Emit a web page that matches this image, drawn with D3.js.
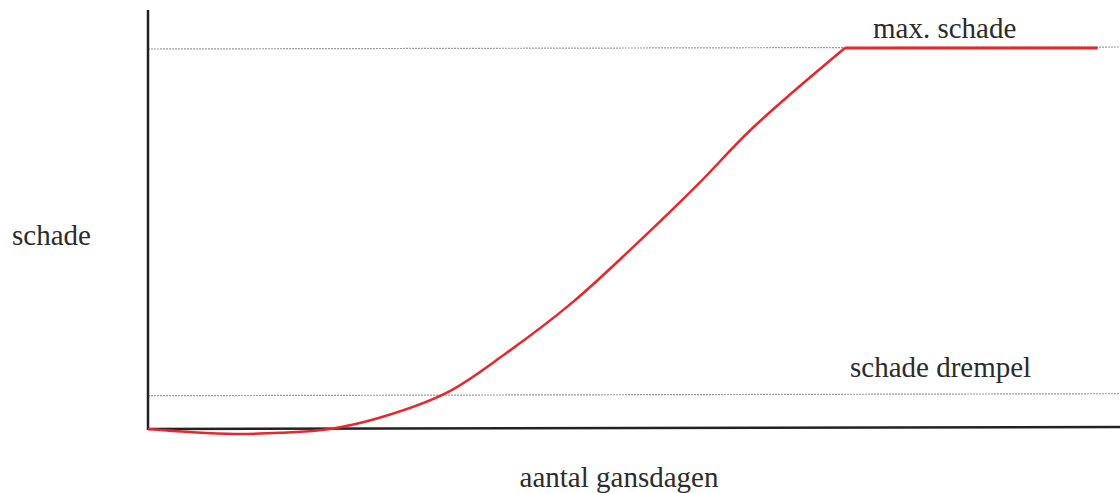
<!DOCTYPE html>
<html>
<head>
<meta charset="utf-8">
<script src="https://cdn.jsdelivr.net/npm/d3@7"></script>
<style>
  body { margin: 0; background: #fff; }
  svg text { font-family: "Liberation Serif", "DejaVu Serif", serif; fill: #2b2b2b; }
</style>
</head>
<body>
<svg id="chart" width="1120" height="493"></svg>
<script>
// data: aantal gansdagen (x) vs schade (y), schade 100 = max
let curveX = [0, 4.3, 8.9, 13.6, 18.7, 23.9, 30.8, 36.9, 43.7, 49.6, 56.5, 62.2, 71.7];
let curveY = [0, -0.8, -1.3, -1.0, 0, 3.0, 9.6, 20.0, 33.3, 47.0, 64.0, 79.0, 100];
let plateauX = [71.7, 97.7];
let plateauY = [100, 100];

let levels = [100, 9];
let levelLabels = ["max. schade", "schade drempel"];

let svg = d3.select("#chart");

// scales
let x = d3.scaleLinear().domain([0, 100]).range([148, 1120]);
let y = d3.scaleLinear().domain([0, 100]).range([429, 48]);

// dotted reference lines
svg.selectAll(".level")
    .data(levels)
    .enter()
    .append("line")
    .attr("class", "level")
    .attr("x1", x(0))
    .attr("x2", x(100))
    .attr("y1", d => y(d) + 1)
    .attr("y2", d => y(d) - 1)
    .attr("stroke", "#9a9a9a")
    .attr("stroke-width", 1.2)
    .attr("stroke-dasharray", "2,1");

// level labels
svg.append("text")
    .attr("x", 873)
    .attr("y", y(levels[0]) - 10)
    .attr("font-size", 29)
    .text(levelLabels[0]);

svg.append("text")
    .attr("x", 850)
    .attr("y", y(levels[1]) - 18)
    .attr("font-size", 29)
    .text(levelLabels[1]);

// axes
svg.append("line")
    .attr("x1", x(0)).attr("x2", x(0))
    .attr("y1", 10).attr("y2", y(0) + 1)
    .attr("stroke", "#222")
    .attr("stroke-width", 2.5);

svg.append("line")
    .attr("x1", x(0)).attr("x2", x(100))
    .attr("y1", y(0)).attr("y2", y(0) - 2)
    .attr("stroke", "#222")
    .attr("stroke-width", 2.5);

// axis titles
svg.append("text")
    .attr("x", 12)
    .attr("y", 245)
    .attr("font-size", 29)
    .text("schade");

svg.append("text")
    .attr("x", 619)
    .attr("y", 487)
    .attr("text-anchor", "middle")
    .attr("font-size", 29)
    .text("aantal gansdagen");

// damage curve
let line = d3.line()
    .x(d => x(d[0]))
    .y(d => y(d[1]));

svg.append("path")
    .datum(d3.zip(curveX, curveY))
    .attr("d", line.curve(d3.curveCatmullRom.alpha(0.5)))
    .attr("fill", "none")
    .attr("stroke", "#e8262c")
    .attr("stroke-width", 2.5);

svg.append("path")
    .datum(d3.zip(plateauX, plateauY))
    .attr("d", line.curve(d3.curveLinear))
    .attr("fill", "none")
    .attr("stroke", "#e8262c")
    .attr("stroke-width", 3);
</script>
</body>
</html>
